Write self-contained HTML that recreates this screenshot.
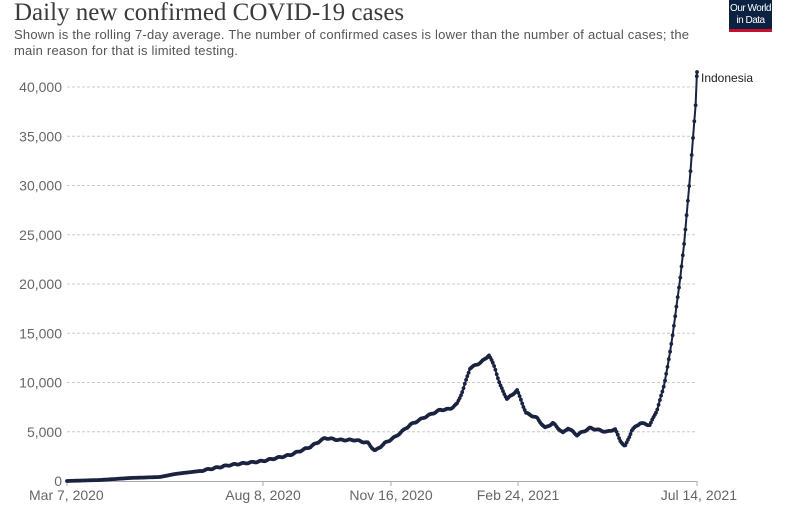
<!DOCTYPE html>
<html><head><meta charset="utf-8"><style>
body{margin:0;background:#fff;width:800px;height:519px;overflow:hidden;font-family:"Liberation Sans",sans-serif}
.t{position:absolute;left:14px;top:-1px;font-family:"Liberation Serif",serif;font-size:25px;color:#3b3b3b}
.s{position:absolute;left:14px;top:27px;font-size:13px;color:#555;line-height:16px;width:720px;letter-spacing:0.22px;white-space:nowrap}
.logo{position:absolute;left:729px;top:0;width:43px;height:32px;background:#0b2240;border-bottom:3px solid #c8102e;color:#fff;font-size:10px;letter-spacing:-0.5px;text-align:center;line-height:12px;padding-top:3px;box-sizing:border-box;white-space:nowrap;overflow:hidden}
svg{position:absolute;left:0;top:0}
</style></head><body>
<div class="t">Daily new confirmed COVID-19 cases</div>
<div class="s">Shown is the rolling 7-day average. The number of confirmed cases is lower than the number of actual cases; the<br>main reason for that is limited testing.</div>
<div class="logo">Our World<br>in Data</div>
<svg id="c" width="800" height="519" font-family="Liberation Sans, sans-serif"></svg>
<script>
var s=document.getElementById('c'),h='';
for(var i=0;i<=8;i++){var y=481-i*49.25;var v=(i*5000).toLocaleString('en-US');
if(i>0)h+='<line x1="67" x2="697" y1="'+y+'" y2="'+y+'" stroke="#ccc" stroke-dasharray="3,2"/>';
h+='<text x="62" y="'+(y+5)+'" text-anchor="end" font-size="14" fill="#666">'+v+'</text>';}
h+='<line x1="67" x2="697" y1="481.5" y2="481.5" stroke="#aaa"/>';
[[67,'Mar 7, 2020','start'],[263,'Aug 8, 2020','middle'],[391,'Nov 16, 2020','middle'],[518,'Feb 24, 2021','middle'],[697,'Jul 14, 2021','end']].forEach(function(t){
h+='<line x1="'+t[0]+'" x2="'+t[0]+'" y1="481" y2="486" stroke="#aaa"/><text x="'+(t[2]=='start'?t[0]-38:t[2]=='end'?t[0]+40:t[0])+'" y="500" text-anchor="'+(t[2]=='start'?'start':t[2]=='end'?'end':'middle')+'" font-size="14" fill="#666">'+t[1]+'</text>';});
var a=[[67,481],[100,480],[130,478],[160,477],[175,474],[200,471],[230,465],[263,461],[290,455],[310,447],[325,438],[340,440],[355,440],[368,443],[375,451],[385,443],[395,437],[410,425],[425,417],[440,410],[450,409],[457,404],[463,390],[470,368],[478,364],[484,360],[489,355],[495,368],[500,385],[507,399],[512,395],[517,390],[521,400],[526,413],[537,418],[545,428],[553,423],[563,433],[568,428],[577,435],[590,428],[607,432],[615,429],[620,440],[625,447],[632,430],[640,423],[650,425],[657,410],[663,390],[667,370],[672,340],[676,310],[680,280],[684,245],[688,200],[691,165],[694,125],[696,100],[697,72]];
var pts=[];var n=0;
for(var x=67;x<=697;x+=1.275){for(var k=0;k<a.length-1&&a[k+1][0]<x;k++);var p=a[k],q=a[Math.min(k+1,a.length-1)];var t=q[0]==p[0]?0:(x-p[0])/(q[0]-p[0]);var j=(x>200&&x<665)?Math.sin(n*0.9)*0.6:0;n++;pts.push([x,p[1]+(q[1]-p[1])*t+j]);}
pts.push([697,72]);
h+='<polyline fill="none" stroke="#1a2340" stroke-width="2" points="'+pts.map(function(p){return p[0].toFixed(1)+','+p[1].toFixed(1)}).join(' ')+'"/>';
pts.forEach(function(p){h+='<circle cx="'+p[0].toFixed(1)+'" cy="'+p[1].toFixed(1)+'" r="1.9" fill="#1a2340"/>';});
h+='<text x="701" y="82" font-size="12" fill="#222">Indonesia</text>';
s.innerHTML=h;
</script>
</body></html>
